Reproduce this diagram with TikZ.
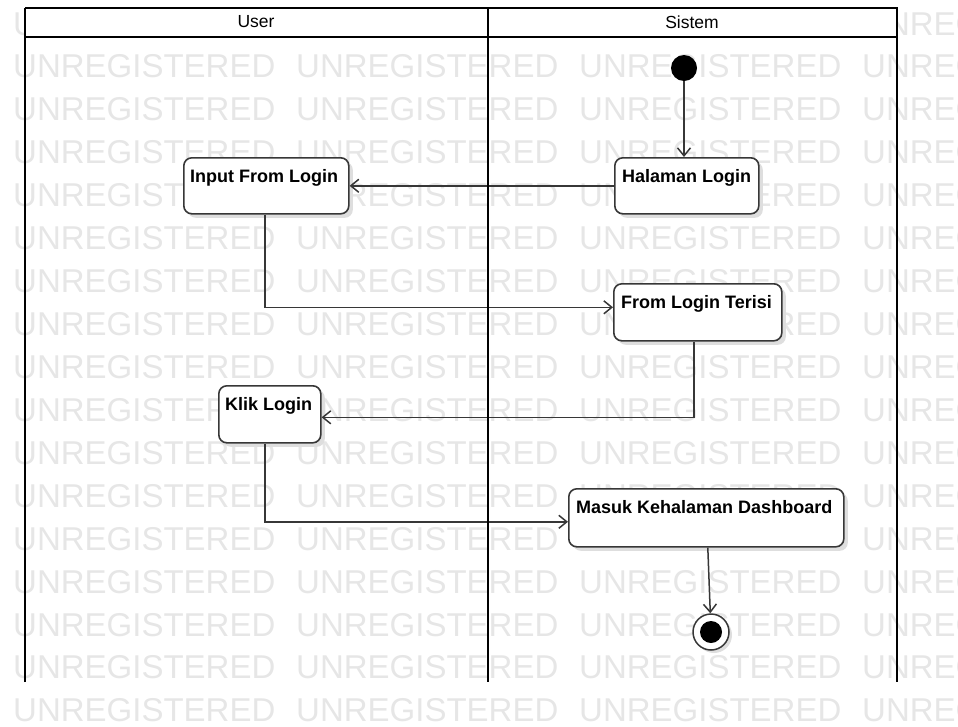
\documentclass[tikz,border=0pt]{standalone}
\usepackage{fontspec}
\setmainfont{Liberation Sans}
\usetikzlibrary{arrows.meta,calc,shadows}
\definecolor{wm}{RGB}{230,230,230}
\definecolor{ln}{RGB}{55,55,55}
\definecolor{shd}{RGB}{222,222,222}
\begin{document}
\begin{tikzpicture}[x=1pt,y=-1pt,
 wmtext/.style={text=wm,font=\fontsize{33}{33}\selectfont,inner sep=0pt,anchor=base west},
 act/.style={draw=ln,line width=1.6pt,rounded corners=8pt,fill=white,inner sep=0pt,anchor=north west,
   drop shadow={shadow xshift=4pt,shadow yshift=-4pt,fill=shd,opacity=1}},
 actlabel/.style={font=\bfseries\fontsize{18}{18}\selectfont,inner sep=0pt,anchor=base west},
 flow/.style={draw=ln,line width=1.5pt,-{Straight Barb[length=8pt,width=13pt,line width=1.5pt]}},
 lane/.style={draw=black,line width=2.6pt},
 laneline/.style={draw=black,line width=2pt},
 lanehead/.style={font=\fontsize{17.5}{17.5}\selectfont,inner sep=0pt}
]
\useasboundingbox (0,0) rectangle (958,726);
% watermark
\begin{scope}
\clip (0,0) rectangle (958,726);
\foreach \r in {0,...,16}{
  \foreach \c in {0,...,3}{
    \node[wmtext] (wm\r\c) at ({13+283*\c},{35+42.93*\r}) {UNREGISTERED};
  }
}
\end{scope}
% header
\fill[white] (25,8) rectangle (897,37);
\node[lanehead] (hu) at (256,22) {User};
\node[lanehead] (hs) at (692,22) {Sistem};
% activities
\node[act,minimum width=165pt,minimum height=56pt,
  label={[actlabel,xshift=7pt,yshift=-25pt]north west:Input From Login}] (ifl) at (183,157) {};
\node[act,minimum width=144pt,minimum height=56pt,
  label={[actlabel,xshift=8pt,yshift=-25pt]north west:Halaman Login}] (hl) at (614,157) {};
\node[act,minimum width=168pt,minimum height=57pt,
  label={[actlabel,xshift=8pt,yshift=-25pt]north west:From Login Terisi}] (flt) at (613,283) {};
\node[act,minimum width=102pt,minimum height=57pt,
  label={[actlabel,xshift=7pt,yshift=-25pt]north west:Klik Login}] (kl) at (218,385) {};
\node[act,minimum width=275pt,minimum height=58pt,
  label={[actlabel,xshift=8pt,yshift=-25pt]north west:Masuk Kehalaman Dashboard}] (mk) at (568,488) {};
% start / end
\node[circle,fill=black,minimum size=26pt,inner sep=0pt] (init) at (684,68) {};
\node[circle,draw=ln,line width=1.5pt,fill=white,minimum size=36pt,inner sep=0pt,
  drop shadow={shadow xshift=3pt,shadow yshift=-3pt,fill=shd,opacity=1}] (fin) at (711,632) {};
\node[circle,fill=black,minimum size=22pt,inner sep=0pt] (finin) at (fin.center) {};
% flows
\draw[flow] (init) -- (init |- hl.north);
\draw[flow] (hl.west) -- (ifl.east);
\draw[flow] ([xshift=-1.5pt]ifl.south) |- ([yshift=5pt]flt.west);
\draw[flow] ([xshift=-4pt]flt.south) |- ([yshift=-3pt]kl.east);
\draw[flow] ([xshift=-5pt]kl.south) |- ([yshift=-4pt]mk.west);
\draw[flow] ([xshift=1.5pt]mk.south) -- (fin);
% lanes
\draw[lane] (25,682) -- (25,8);
\draw[laneline] (25,8) -- (897,8) -- (897,682);
\draw[laneline] (25,37) -- (897,37);
\draw[lane] (488,8) -- (488,682);
\end{tikzpicture}
\end{document}
